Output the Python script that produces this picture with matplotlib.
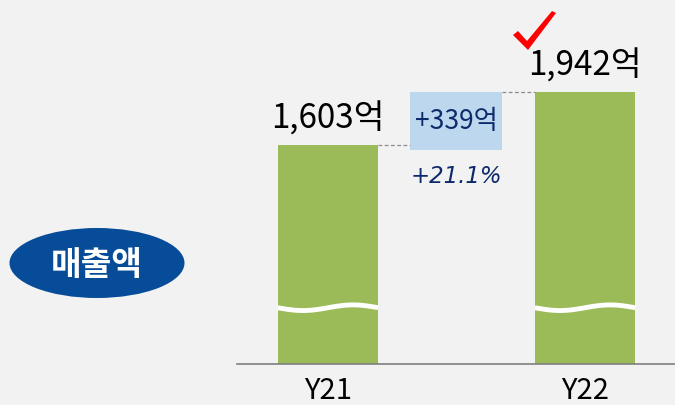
import numpy as np
import matplotlib.pyplot as plt
from matplotlib.patches import Ellipse, Rectangle, Polygon

plt.rcParams['font.family'] = ['Noto Sans CJK KR', 'DejaVu Sans']

# data
years = ["Y21", "Y22"]
sales = [1603, 1942]
labels = ["1,603억", "1,942억"]
diff_label = "+339억"
growth_label = "+21.1%"
metric = "매출액"

bar_color = "#9bbb59"
navy = "#0d2a6b"
bg = "#f2f2f2"

fig = plt.figure(figsize=(6.75, 4.06), dpi=100, facecolor=bg)
ax = fig.add_axes([237 / 675, 41 / 406, 438 / 675, 365 / 406])
ax.set_facecolor(bg)

x = np.arange(len(years))
w = 0.39
ax.bar(x, sales, width=w, color=bar_color, zorder=2)
ax.set_xlim(-0.354, 1.35)
ax.set_ylim(200, 2535)

# value labels
for xi, v, lab in zip(x, sales, labels):
    ax.annotate(lab, (xi, v), xytext=(0, 19), textcoords="offset points",
                ha="center", va="center", fontsize=24, color="black")

# axis break waves
t = np.linspace(0, 1, 60)
for xi in x:
    ax.plot(xi - w / 2 + t * w, 560 - 18 * np.sin(2 * np.pi * t),
            color="white", lw=3.5, solid_capstyle="butt", zorder=3)

# difference box
bx0, bx1 = 0.319, 0.677
box_bottom = 1569
ax.add_patch(Rectangle((bx0, box_bottom), bx1 - bx0, sales[1] - box_bottom,
                       facecolor="#bdd7ee", edgecolor="none", zorder=2))
ax.text((bx0 + bx1) / 2, (box_bottom + sales[1]) / 2, diff_label,
        ha="center", va="center", fontsize=19, color=navy, zorder=4)
ax.text((bx0 + bx1) / 2, 1403, growth_label, ha="center", va="center",
        fontsize=16.5, color=navy, style="italic", family="DejaVu Sans")

# dashed connectors
ax.plot([x[0] + w / 2, bx0], [sales[0], sales[0]], color="#8c8c8c",
        lw=0.9, ls=(0, (3, 2)))
ax.plot([bx1, x[1] - w / 2], [sales[1], sales[1]], color="#8c8c8c",
        lw=0.9, ls=(0, (3, 2)))

# axis styling
for s in ["top", "right", "left"]:
    ax.spines[s].set_visible(False)
ax.spines["bottom"].set_color("#7f7f7f")
ax.spines["bottom"].set_linewidth(1.2)
ax.set_yticks([])
ax.set_xticks(x, years)
ax.tick_params(axis="x", length=0, pad=8, labelsize=21, colors="black")

# metric ellipse
fig.patches.append(Ellipse((97 / 675, 1 - 264 / 406), 175 / 675, 70 / 406,
                           transform=fig.transFigure, facecolor="#064c98",
                           edgecolor="none"))
fig.text(97 / 675, 1 - 266 / 406, metric, ha="center", va="center",
         fontsize=24, fontweight="bold", color="white")

# red check mark
pts = [(513, 36), (518, 32), (527, 42), (552, 12), (556, 14), (528, 51)]
fig.patches.append(Polygon([(px / 675, 1 - py / 406) for px, py in pts],
                           closed=True, transform=fig.transFigure,
                           facecolor="#ff0000", edgecolor="none"))

fig.savefig("out.png", dpi=100, facecolor=bg)
